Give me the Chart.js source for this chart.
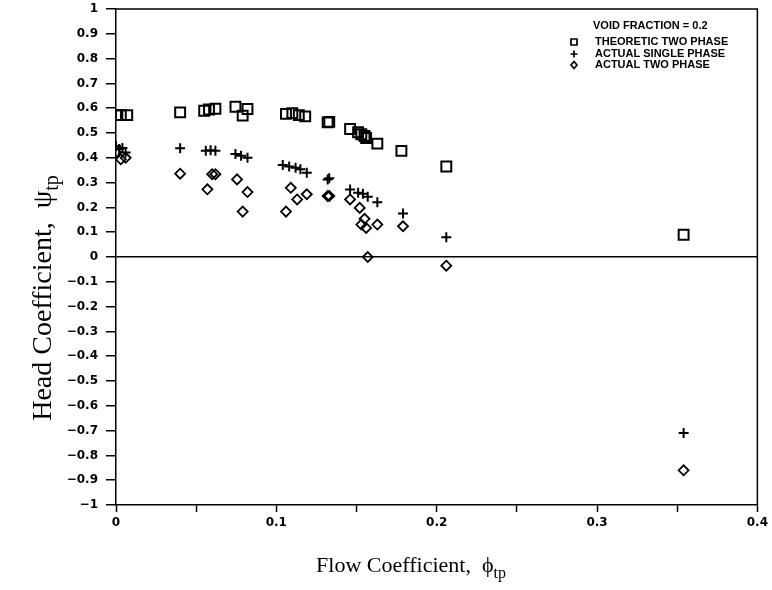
<!DOCTYPE html>
<html>
<head>
<meta charset="utf-8">
<script src="https://cdn.jsdelivr.net/npm/chart.js@4.4.0/dist/chart.umd.min.js"></script>
<style>
  html, body { margin: 0; padding: 0; background: #fff; }
  #wrap { width: 772px; height: 590px; }
</style>
</head>
<body>
<div id="wrap"><canvas id="chart" width="772" height="590"></canvas></div>
<script>
// values
const theoPhi = [0, 0.003, 0.007, 0.040, 0.055, 0.058, 0.062, 0.0745, 0.079, 0.082, 0.106, 0.110, 0.114, 0.118, 0.132, 0.133, 0.146, 0.151, 0.153, 0.155, 0.156, 0.163, 0.178, 0.206, 0.354];
const theoPsi = [0.572, 0.572, 0.572, 0.583, 0.590, 0.595, 0.598, 0.606, 0.570, 0.597, 0.577, 0.580, 0.572, 0.567, 0.543, 0.545, 0.516, 0.503, 0.495, 0.488, 0.480, 0.457, 0.428, 0.365, 0.090];

const singlePhi = [0, 0.002, 0.004, 0.006, 0.040, 0.056, 0.059, 0.062, 0.0745, 0.078, 0.082, 0.104, 0.108, 0.112, 0.115, 0.119, 0.132, 0.133, 0.146, 0.151, 0.154, 0.157, 0.163, 0.179, 0.206, 0.354];
const singlePsi = [0.448, 0.435, 0.440, 0.421, 0.439, 0.428, 0.430, 0.428, 0.415, 0.408, 0.400, 0.371, 0.365, 0.360, 0.354, 0.340, 0.313, 0.318, 0.272, 0.259, 0.255, 0.243, 0.221, 0.175, 0.080, -0.710];

const twoPhi = [0, 0.003, 0.006, 0.040, 0.057, 0.060, 0.062, 0.0755, 0.082, 0.079, 0.106, 0.109, 0.113, 0.119, 0.132, 0.133, 0.146, 0.152, 0.155, 0.153, 0.156, 0.163, 0.179, 0.157, 0.206, 0.354];
const twoPsi = [0.421, 0.394, 0.400, 0.336, 0.273, 0.334, 0.334, 0.313, 0.262, 0.183, 0.183, 0.279, 0.232, 0.253, 0.246, 0.246, 0.232, 0.198, 0.154, 0.131, 0.117, 0.131, 0.124, 0.000, -0.035, -0.860];

const seriesNames = ['THEORETIC TWO PHASE', 'ACTUAL SINGLE PHASE', 'ACTUAL TWO PHASE'];
const legendTitle = 'VOID FRACTION = 0.2';
const xRange = [0, 0.4];
const yRange = [-1, 1];

const toPoints = (xs, ys) => xs.map((x, i) => ({ x: x, y: ys[i] }));

// box around the plot (top + right sides; left/bottom come from the axes)
const frame = {
  id: 'frame',
  afterDraw(chart) {
    const { ctx, chartArea: a } = chart;
    ctx.save();
    ctx.strokeStyle = '#000';
    ctx.lineWidth = 1.5;
    ctx.beginPath();
    ctx.moveTo(a.left, a.top);
    ctx.lineTo(a.right, a.top);
    ctx.lineTo(a.right, a.bottom);
    ctx.stroke();
    ctx.restore();
  }
};

// axis titles with subscripts
const serif = '"Liberation Serif", "DejaVu Serif", serif';
const titles = {
  id: 'titles',
  afterDraw(chart) {
    const ctx = chart.ctx;
    const drawSub = (main, greek, sub, x, y, size) => {
      const big = size + 'px ' + serif;
      const small = Math.round(size * 0.72) + 'px ' + serif;
      ctx.font = big;
      const w1 = ctx.measureText(main).width;
      const w2 = ctx.measureText(greek).width;
      ctx.font = small;
      const w3 = ctx.measureText(sub).width;
      const cx = x - (w1 + w2 + w3) / 2;
      ctx.font = big;
      ctx.fillText(main, cx, y);
      ctx.fillText(greek, cx + w1, y);
      ctx.font = small;
      ctx.fillText(sub, cx + w1 + w2, y + size * 0.25);
    };
    ctx.save();
    ctx.fillStyle = '#000';
    ctx.textBaseline = 'alphabetic';
    ctx.textAlign = 'left';
    drawSub('Flow Coefficient,  ', '\u03D5', 'tp', 411, 572, 22);
    ctx.translate(51, 298);
    ctx.rotate(-Math.PI / 2);
    drawSub('Head Coefficient,  ', '\u03C8', 'tp', 0, 0, 28);
    ctx.restore();
  }
};

// legend block in the upper right corner of the plot
const keyBox = {
  id: 'keyBox',
  afterDraw(chart) {
    const ctx = chart.ctx;
    const x0 = 574, tx = 595, rows = [42, 54, 65];
    ctx.save();
    ctx.fillStyle = '#000';
    ctx.strokeStyle = '#000';
    ctx.font = 'bold 11px "Liberation Sans", Arial, sans-serif';
    ctx.textBaseline = 'middle';
    ctx.fillText(legendTitle, 593, 26);
    seriesNames.forEach((name, i) => {
      const y = rows[i];
      ctx.lineWidth = 1.7;
      ctx.beginPath();
      if (i === 0) {
        ctx.rect(x0 - 3, y - 3, 6, 6);
      } else if (i === 1) {
        ctx.moveTo(x0 - 3.5, y); ctx.lineTo(x0 + 3.5, y);
        ctx.moveTo(x0, y - 3.5); ctx.lineTo(x0, y + 3.5);
      } else {
        ctx.moveTo(x0, y - 3.5); ctx.lineTo(x0 + 3, y);
        ctx.lineTo(x0, y + 3.5); ctx.lineTo(x0 - 3, y); ctx.closePath();
      }
      ctx.stroke();
      ctx.fillText(name, tx, y);
    });
    ctx.restore();
  }
};

const tickFont = { family: '"DejaVu Sans", Arial, sans-serif', size: 12, weight: 'bold' };

new Chart(document.getElementById('chart'), {
  type: 'scatter',
  data: {
    datasets: [
      {
        label: seriesNames[0],
        data: toPoints(theoPhi, theoPsi),
        pointStyle: 'rect',
        pointRadius: 7,
        borderColor: '#000',
        backgroundColor: 'rgba(0,0,0,0)',
        borderWidth: 2,
      },
      {
        label: seriesNames[1],
        data: toPoints(singlePhi, singlePsi),
        pointStyle: 'cross',
        pointRadius: 5,
        borderColor: '#000',
        backgroundColor: 'rgba(0,0,0,0)',
        borderWidth: 2,
      },
      {
        label: seriesNames[2],
        data: toPoints(twoPhi, twoPsi),
        pointStyle: 'rectRot',
        pointRadius: 5,
        borderColor: '#000',
        backgroundColor: 'rgba(0,0,0,0)',
        borderWidth: 1.8,
      },
    ],
  },
  options: {
    responsive: false,
    animation: false,
    layout: { padding: { top: 0, right: 11, left: 0, bottom: 0 } },
    plugins: {
      legend: { display: false },
      tooltip: { enabled: false },
    },
    scales: {
      x: {
        type: 'linear',
        min: xRange[0],
        max: xRange[1],
        border: { color: '#000', width: 1.5 },
        grid: { drawOnChartArea: false, tickColor: '#000', tickLength: 7, tickWidth: 1.5 },
        ticks: {
          stepSize: 0.05,
          color: '#000',
          font: tickFont,
          padding: 4,
          maxRotation: 0,
          callback: (v) => {
            const t = Math.round(v * 100);
            return t % 10 === 0 ? String(t / 100) : '';
          },
        },
        afterFit: (s) => { s.height = 85; },
      },
      y: {
        type: 'linear',
        min: yRange[0],
        max: yRange[1],
        border: { color: '#000', width: 1.5 },
        grid: {
          color: (c) => (c.tick && c.tick.value === 0 ? '#000' : 'rgba(0,0,0,0)'),
          lineWidth: 1.5,
          tickColor: '#000',
          tickLength: 10,
          tickWidth: 1.5,
        },
        ticks: {
          stepSize: 0.1,
          color: '#000',
          font: tickFont,
          padding: 8,
          callback: (v) => {
            const t = Math.round(v * 10) / 10;
            return String(t).replace('-', '\u2212');
          },
        },
        afterFit: (s) => {
          s.width = 116;
          s.paddingTop = 8;
          s.paddingBottom = 0;
        },
      },
    },
  },
  plugins: [frame, titles, keyBox],
});
</script>
</body>
</html>
